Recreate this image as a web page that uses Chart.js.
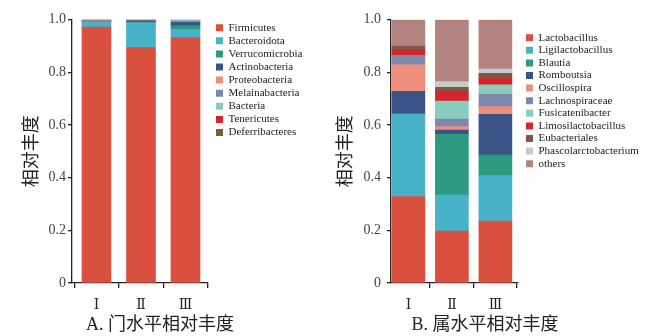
<!DOCTYPE html>
<html>
<head>
<meta charset="utf-8">
<script src="https://cdn.jsdelivr.net/npm/chart.js@4.4.0/dist/chart.umd.min.js"></script>
<style>
  html, body { margin: 0; padding: 0; background: #fff; }
  #wrap { position: relative; width: 646px; height: 336px; }
  canvas { position: absolute; top: 0; }
  #phylum { left: 0; }
  #genus { left: 323px; }
</style>
</head>
<body>
<div id="wrap">
  <canvas id="phylum" width="323" height="336"></canvas>
  <canvas id="genus" width="323" height="336"></canvas>
</div>
<script>
const groups = ["Ⅰ", "Ⅱ", "Ⅲ"]
const groupPos = [0, 1, 2]
const yTicks = [0, 0.2, 0.4, 0.6, 0.8, 1.0]

// A. phylum level (I, II, III)
const phylumNames = ["Firmicutes", "Bacteroidota", "Verrucomicrobia", "Actinobacteria", "Proteobacteria",
  "Melainabacteria", "Bacteria", "Tenericutes", "Deferribacteres"]
const firmicutes = [0.972, 0.894, 0.932]
const bacteroidota = [0.020, 0.095, 0.031]
const verrucomicrobia = [0.001, 0.001, 0.014]
const actinobacteria = [0.002, 0.006, 0.013]
const proteobacteria = [0.002, 0.001, 0.002]
const melainabacteria = [0.002, 0.002, 0.004]
const bacteria = [0.001, 0.001, 0.002]
const tenericutes = [0, 0, 0.001]
const deferribacteres = [0, 0, 0.001]

// B. genus level (I, II, III)
const genusNames = ["Lactobacillus", "Ligilactobacillus", "Blautia", "Romboutsia", "Oscillospira",
  "Lachnospiraceae", "Fusicatenibacter", "Limosilactobacillus", "Eubacteriales", "Phascolarctobacterium", "others"]
const lactobacillus = [0.328, 0.197, 0.235]
const ligilactobacillus = [0.314, 0.137, 0.173]
const blautia = [0, 0.231, 0.078]
const romboutsia = [0.086, 0.016, 0.155]
const oscillospira = [0.101, 0.013, 0.029]
const lachnospiraceae = [0.036, 0.029, 0.047]
const fusicatenibacter = [0, 0.068, 0.036]
const limosilactobacillus = [0.022, 0.038, 0.024]
const eubacteriales = [0.014, 0.014, 0.019]
const phascolarctobacterium = [0, 0.022, 0.016]
const others = [0.099, 0.235, 0.188]

const palette = ["#d9503f", "#47b2c8", "#2c9a80", "#3b5387", "#ee8e7c", "#7c89ad",
  "#88ccbb", "#d4262c", "#7a5b48", "#c9c9c9", "#b2837f"]

const SERIF = '"Liberation Serif", "DejaVu Serif", "Noto Sans CJK SC", serif'
const INK = "#222"

// moves legend and caption after chart.js has done its layout
const placeBlocks = {
  id: "placeBlocks",
  afterLayout(chart, args, opts) {
    const legend = chart.legend
    const pad = legend.options.labels.padding
    legend.left = opts.legendX - pad
    legend.right = chart.width
    legend.width = legend.right - legend.left
    legend.top = opts.legendY - pad
    legend.bottom = legend.top + legend.height
    const title = chart.titleBlock
    const w = title.right - title.left
    title.left = opts.titleX - w / 2
    title.right = title.left + w
  },
}

function makeChart(id, names, series, caption, cfg) {
  const datasets = series.map((vals, i) => ({
    label: names[i],
    data: vals.map((v, j) => ({ x: groupPos[j], y: v })),
    backgroundColor: palette[i],
    borderWidth: 0,
    barThickness: cfg.barWidth,
  }))

  return new Chart(document.getElementById(id), {
    type: "bar",
    data: { datasets: datasets },
    plugins: [placeBlocks],
    options: {
      responsive: false,
      devicePixelRatio: 1,
      animation: false,
      events: [],
      layout: { padding: cfg.padding },
      scales: {
        x: {
          type: "linear",
          stacked: true,
          offset: false,
          min: cfg.xMin,
          max: cfg.xMax,
          afterBuildTicks: (s) => { s.ticks = groupPos.map((v) => ({ value: v })) },
          afterFit: (s) => { s.height = cfg.xAxisHeight },
          ticks: {
            callback: (v) => groups[v],
            font: { family: SERIF, size: 14 },
            color: INK,
            padding: 9,
            maxRotation: 0,
            autoSkip: false,
          },
          grid: { drawOnChartArea: false, tickLength: 5, color: INK, lineWidth: 1.3 },
          border: { color: INK, width: 1.3 },
        },
        y: {
          stacked: true,
          min: 0,
          max: 1,
          afterBuildTicks: (s) => { s.ticks = yTicks.map((v) => ({ value: v })) },
          afterFit: (s) => { s.width = cfg.yAxisWidth },
          ticks: {
            callback: (v) => (v === 0 ? "0" : v.toFixed(1)),
            font: { family: SERIF, size: 14 },
            color: "#444",
            padding: cfg.yTickPad,
          },
          grid: { drawOnChartArea: false, tickLength: 4, color: INK, lineWidth: 1.3 },
          border: { color: INK, width: 1.3 },
          title: {
            display: true,
            text: "相对丰度",
            font: { family: '"Noto Sans CJK SC", sans-serif', size: 18 },
            color: INK,
            padding: { top: 2, bottom: 0 },
          },
        },
      },
      plugins: {
        tooltip: { enabled: false },
        legend: {
          position: "right",
          align: "start",
          maxWidth: 60,
          labels: {
            boxWidth: 7,
            boxHeight: 7,
            padding: cfg.legendStep - 11,
            font: { family: SERIF, size: 11 },
            color: INK,
          },
        },
        title: {
          display: true,
          position: "bottom",
          text: caption,
          font: { family: SERIF, size: 18, weight: "normal" },
          color: INK,
          padding: { top: 1, bottom: 0 },
        },
        placeBlocks: { legendX: cfg.legendX, legendY: cfg.legendY, titleX: cfg.titleX },
      },
    },
  })
}

makeChart("phylum", phylumNames,
  [firmicutes, bacteroidota, verrucomicrobia, actinobacteria, proteobacteria, melainabacteria, bacteria, tenericutes, deferribacteres],
  "A. 门水平相对丰度",
  {
    padding: { left: 17.2, top: 19.7, right: 55, bottom: 0 },
    yAxisWidth: 54.8, yTickPad: 2, xAxisHeight: 30.4,
    xMin: -0.55, xMax: 2.506, barWidth: 29,
    legendX: 216, legendY: 22.2, legendStep: 13.1, titleX: 160,
  })

makeChart("genus", genusNames,
  [lactobacillus, ligilactobacillus, blautia, romboutsia, oscillospira, lachnospiraceae, fusicatenibacter,
    limosilactobacillus, eubacteriales, phascolarctobacterium, others],
  "B. 属水平相对丰度",
  {
    padding: { left: 7.9, top: 19.7, right: 68, bottom: 0 },
    yAxisWidth: 60.1, yTickPad: 6, xAxisHeight: 30.4,
    xMin: -0.40, xMax: 2.52, barWidth: 33,
    legendX: 203, legendY: 32.2, legendStep: 12.6, titleX: 162,
  })
</script>
</body>
</html>
